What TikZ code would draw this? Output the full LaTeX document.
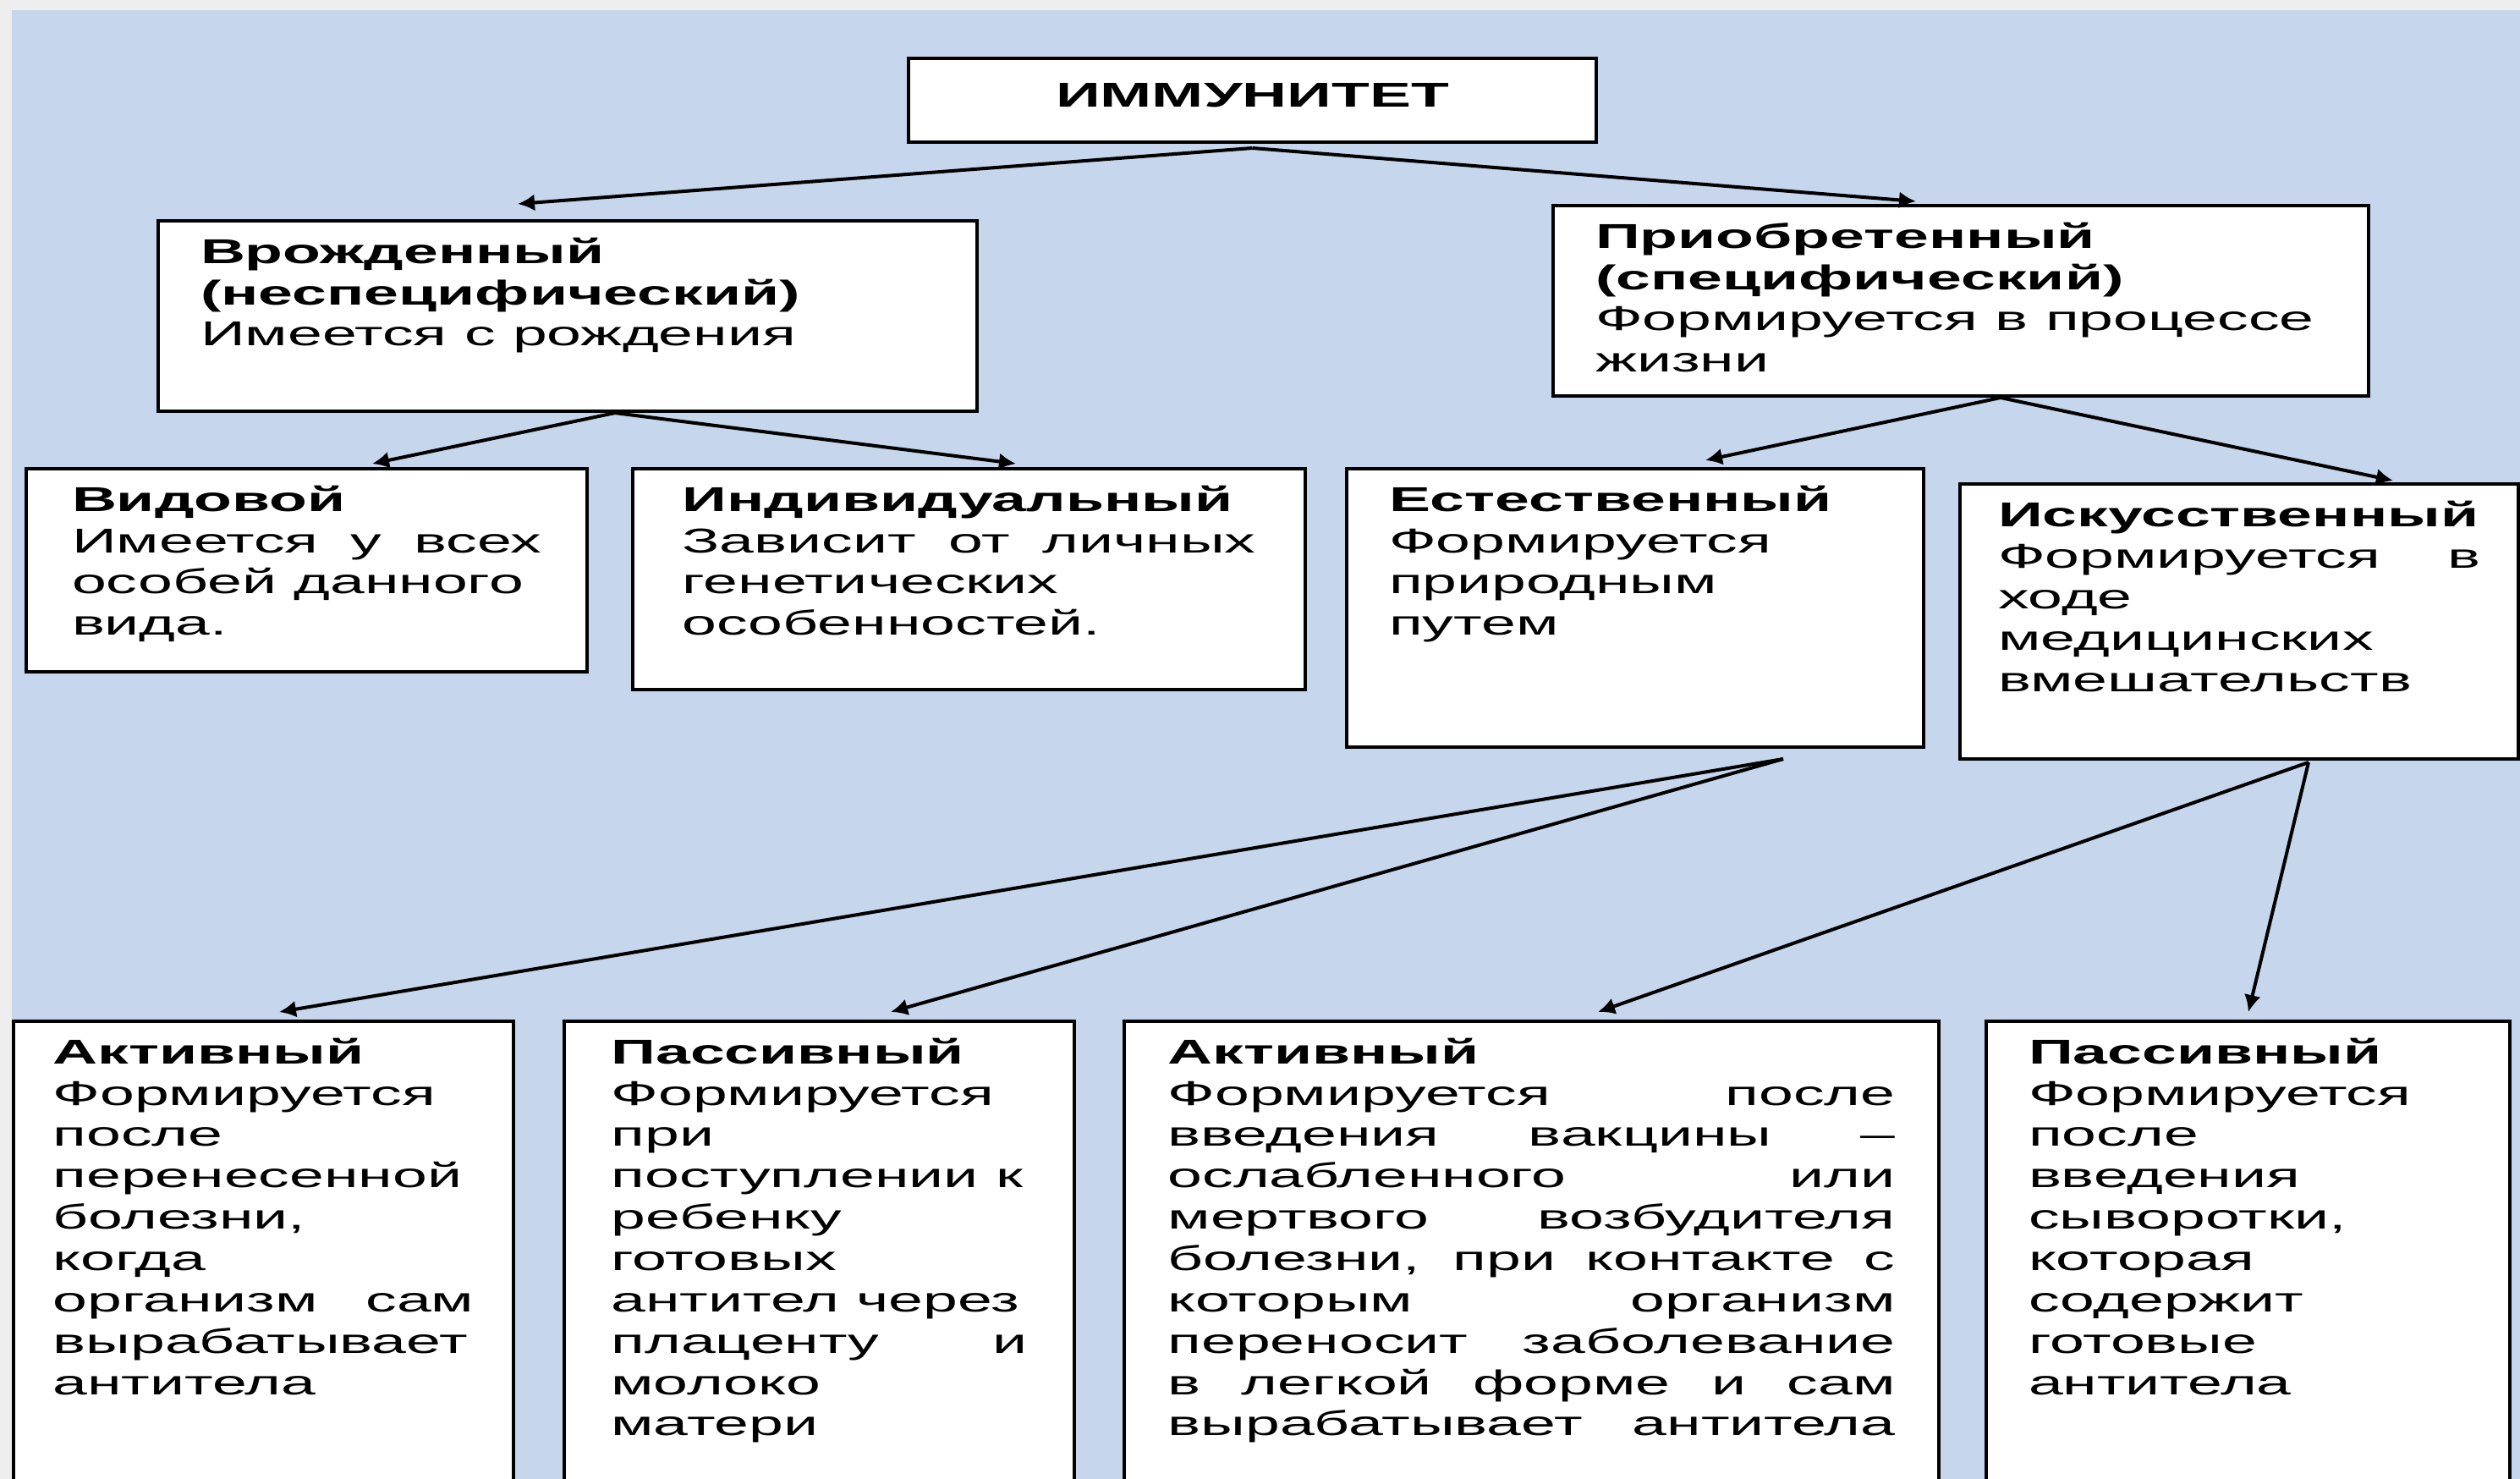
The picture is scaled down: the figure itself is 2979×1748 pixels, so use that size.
\documentclass[tikz,border=0pt]{standalone}
\usepackage{fontspec}
\setmainfont[FakeStretch=1.8]{Liberation Sans}
\usetikzlibrary{arrows.meta}

\definecolor{bgblue}{RGB}{198,214,236}
\definecolor{edgegray}{RGB}{238,238,238}

% text block inside a box: text width, box height, content
\newcommand{\blktext}[3]{\parbox[c][#2][t]{#1}{\vspace*{1.6mm}\strut#3}}
% a line spread to the full text width
\newcommand{\jline}[1]{\makebox[\linewidth][s]{#1}}

\begin{document}
\begin{tikzpicture}[x=0.1mm,y=-0.1mm,
    blk/.style={draw, line width=0.4mm, fill=white, inner sep=0pt, anchor=north west,
                font=\fontsize{11.6}{13.9}\selectfont},
    arr/.style={line width=0.4mm, -{Latex[length=2mm,width=2mm]}}]

        % ============================================
        % BACKGROUND
        % ============================================

        \fill[edgegray] (0,0) rectangle (2979,1748);
        \fill[bgblue] (14,12) rectangle (2979,1748);
        \clip (0,0) rectangle (2979,1748);

        % ============================================
        % TOP LEVELS
        % ============================================

        \node[blk, minimum width=81.3mm, minimum height=9.9mm] (imm) at (1072,67)
             {\raisebox{1.2mm}{\bfseries ИММУНИТЕТ}};

        \node[blk, minimum width=96.8mm] (vrozh) at (185,259)
             {\blktext{86.8mm}{22.5mm}{{\bfseries Врожденный\\(неспецифический)}\\
              Имеется с рождения}};
        \node[blk, minimum width=96.4mm] (priob) at (1834,241)
             {\blktext{86.4mm}{22.5mm}{{\bfseries Приобретенный\\(специфический)}\\
              Формируется в процессе\\жизни}};

        % ============================================
        % SECOND LEVEL
        % ============================================

        \node[blk, minimum width=66.3mm] (vidov) at (29,552)
             {\blktext{55.5mm}{24mm}{{\bfseries Видовой}\\
              \jline{Имеется у всех}\\особей данного\\вида.}};
        \node[blk, minimum width=79.5mm] (indiv) at (746,552)
             {\blktext{67.8mm}{26.1mm}{{\bfseries Индивидуальный}\\
              \jline{Зависит от личных}\\генетических\\особенностей.}};
        \node[blk, minimum width=68.2mm] (estest) at (1590,552)
             {\blktext{58.2mm}{32.9mm}{{\bfseries Естественный}\\
              Формируется\\природным\\путем}};
        \node[blk, minimum width=66mm] (iskus) at (2315,570)
             {\blktext{57mm}{32.5mm}{{\bfseries Искусственный}\\
              \jline{Формируется в}\\ходе\\медицинских\\вмешательств}};

        % ============================================
        % BOTTOM LEVEL
        % ============================================

        \node[blk, minimum width=59.1mm] (akt1) at (14,1205)
             {\blktext{49.8mm}{60mm}{{\bfseries Активный}\\
              Формируется\\после\\перенесенной\\болезни,\\когда\\
              \jline{организм сам}\\вырабатывает\\антитела}};
        \node[blk, minimum width=60.3mm] (pass1) at (665,1205)
             {\blktext{49.2mm}{60mm}{{\bfseries Пассивный}\\
              Формируется\\при\\поступлении к\\ребенку\\готовых\\
              антител через\\\jline{плаценту и}\\молоко\\матери}};
        \node[blk, minimum width=96.3mm] (akt2) at (1327,1205)
             {\blktext{86mm}{60mm}{{\bfseries Активный}\\
              \jline{Формируется после}\\\jline{введения вакцины –}\\
              \jline{ослабленного или}\\\jline{мертвого возбудителя}\\
              \jline{болезни, при контакте с}\\\jline{которым организм}\\
              \jline{переносит заболевание}\\\jline{в легкой форме и сам}\\
              \jline{вырабатывает антитела}}};
        \node[blk, minimum width=61.9mm] (pass2) at (2346,1205)
             {\blktext{51.9mm}{60mm}{{\bfseries Пассивный}\\
              Формируется\\после\\введения\\сыворотки,\\которая\\
              содержит\\готовые\\антитела}};

        % ============================================
        % ARROWS
        % ============================================

        \draw[arr] ([yshift=-0.5mm]imm.south) -- ([xshift=42.7mm,yshift=1.8mm]vrozh.north west);
        \draw[arr] ([yshift=-0.5mm]imm.south) -- ([xshift=43.1mm,yshift=0.3mm]priob.north west);

        \draw[arr] ([xshift=54.2mm]vrozh.south west) -- ([xshift=41.1mm,yshift=0.4mm]vidov.north west);
        \draw[arr] ([xshift=54.2mm]vrozh.south west) -- ([xshift=45.5mm,yshift=0.4mm]indiv.north west);

        \draw[arr] ([xshift=53.1mm]priob.south west) -- ([xshift=42.6mm,yshift=0.8mm]estest.north west);
        \draw[arr] ([xshift=53.1mm]priob.south west) -- ([xshift=51.4mm,yshift=0.2mm]iskus.north west);

        \draw[arr] ([xshift=51.8mm,yshift=-1.2mm]estest.south west) -- ([xshift=31.6mm,yshift=0.9mm]akt1.north west);
        \draw[arr] ([xshift=51.8mm,yshift=-1.2mm]estest.south west) -- ([xshift=38.8mm,yshift=0.9mm]pass1.north west);

        \draw[arr] ([xshift=41.4mm,yshift=-0.2mm]iskus.south west) -- ([xshift=56.2mm,yshift=0.9mm]akt2.north west);
        \draw[arr] ([xshift=41.4mm,yshift=-0.2mm]iskus.south west) -- ([xshift=31.2mm,yshift=0.9mm]pass2.north west);

\end{tikzpicture}
\end{document}
